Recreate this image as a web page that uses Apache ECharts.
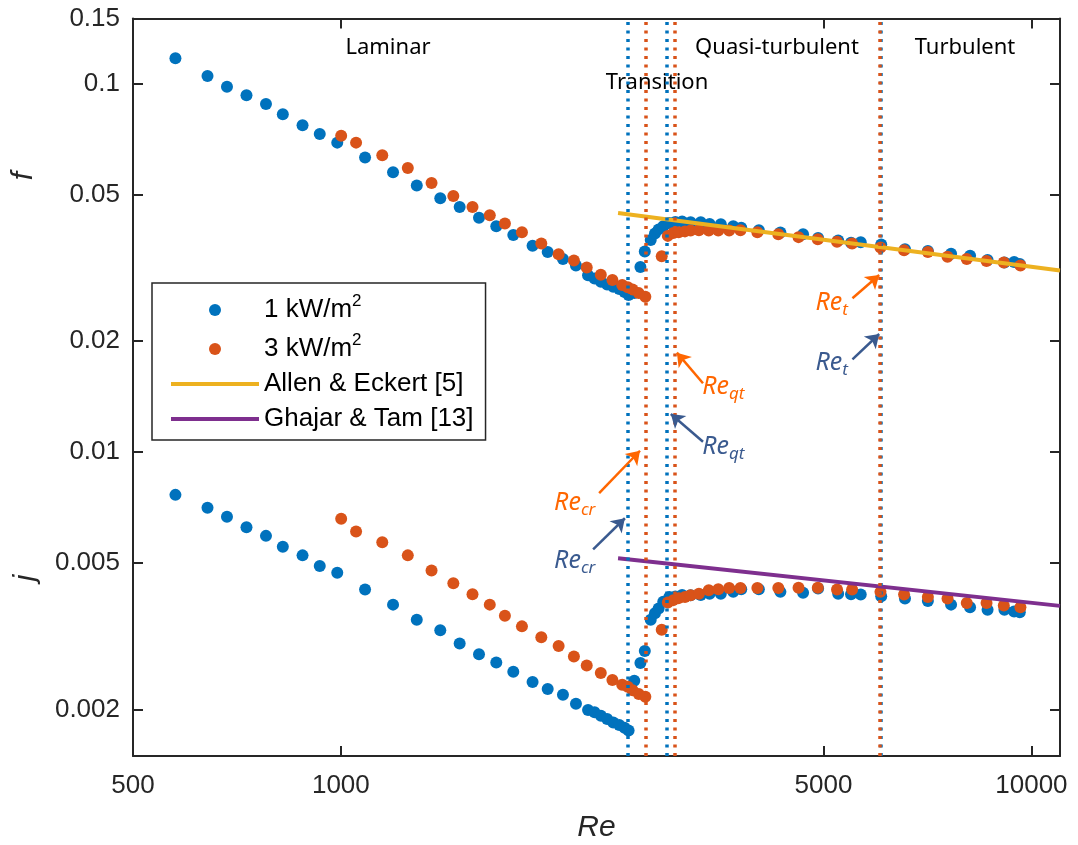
<!DOCTYPE html>
<html>
<head>
<meta charset="utf-8">
<script src="https://cdn.jsdelivr.net/npm/echarts@6/dist/echarts.min.js"></script>
<style>
  html, body { margin: 0; padding: 0; background: #fff; }
  #chart { width: 1078px; height: 845px; }
</style>
</head>
<body>
<div id="chart"></div>
<script>
// 1 kW/m2 (blue): Re with matching f and j
const reBlue = [576, 641, 684, 730, 779, 824, 880, 932, 988, 1084, 1190, 1288, 1393, 1486, 1585, 1679, 1777, 1895, 1993, 2097,
  2190, 2280, 2330, 2380, 2430, 2480, 2530, 2575, 2610,
  2660, 2715, 2755, 2810, 2850, 2885, 2930, 2990,
  3050, 3120, 3210, 3320, 3420, 3550, 3700, 3800, 4030, 4330, 4670, 4910, 5250, 5480, 5660, 6060, 6560, 7080, 7650, 8150, 8640, 9140, 9440, 9620];
const fBlue = [0.1170, 0.1048, 0.0980, 0.0929, 0.0879, 0.0825, 0.0770, 0.0729, 0.0691, 0.0630, 0.0574, 0.0529, 0.0488, 0.0462, 0.0432, 0.0410, 0.0388, 0.0363, 0.0349, 0.0334,
  0.0321, 0.0302, 0.0296, 0.0290, 0.0285, 0.0281, 0.0277, 0.0272, 0.0267,
  0.0270, 0.0318, 0.0350, 0.0376, 0.0392, 0.0402, 0.0410, 0.0418,
  0.0421, 0.0422, 0.0420, 0.0420, 0.0416, 0.0415, 0.0410, 0.0406, 0.0400, 0.0394, 0.0390, 0.0381, 0.0375, 0.0370, 0.0371, 0.0366, 0.0355, 0.0351, 0.0345, 0.0341, 0.0332, 0.0327, 0.0328, 0.0324];
const jBlue = [0.00766, 0.00707, 0.00668, 0.00626, 0.00593, 0.00554, 0.00525, 0.00491, 0.00471, 0.00424, 0.00386, 0.00351, 0.00329, 0.00303, 0.00283, 0.00269, 0.00254, 0.00238, 0.00228, 0.00220,
  0.00208, 0.00200, 0.00197, 0.00193, 0.00189, 0.00185, 0.00182, 0.00179, 0.00176,
  0.00240, 0.00268, 0.00289, 0.00351, 0.00366, 0.00377, 0.00393, 0.00405,
  0.00406, 0.00410, 0.00409, 0.00410, 0.00413, 0.00413, 0.00418, 0.00425, 0.00425, 0.00418, 0.00416, 0.00427, 0.00413, 0.00412, 0.00411, 0.00407, 0.00401, 0.00395, 0.00386, 0.00380, 0.00374, 0.00374, 0.00370, 0.00368];

// 3 kW/m2 (orange)
const reOrange = [1001, 1052, 1148, 1250, 1353, 1455, 1551, 1643, 1728, 1829, 1951, 2067, 2175, 2270, 2379, 2473, 2555, 2603, 2645, 2700, 2760,
  2915, 2975, 3030, 3085, 3150, 3210, 3300, 3410, 3520, 3650, 3790, 4010, 4300, 4600, 4905, 5230, 5500, 6045, 6540, 7080, 7560, 8060, 8610, 9120, 9640];
const fOrange = [0.0721, 0.0691, 0.0639, 0.0590, 0.0537, 0.0495, 0.0462, 0.0439, 0.0417, 0.0395, 0.0368, 0.0344, 0.0331, 0.0317, 0.0303, 0.0293, 0.0284, 0.0280, 0.0276, 0.0270, 0.0264,
  0.0340, 0.0386, 0.0393, 0.0395, 0.0397, 0.0399, 0.0400, 0.0399, 0.0399, 0.0399, 0.0400, 0.0395, 0.0390, 0.0383, 0.0378, 0.0372, 0.0368, 0.0359, 0.0353, 0.0349, 0.0339, 0.0334, 0.0330, 0.0327, 0.0321];
const jOrange = [0.00660, 0.00609, 0.00570, 0.00525, 0.00478, 0.00441, 0.00412, 0.00386, 0.00360, 0.00337, 0.00315, 0.00298, 0.00279, 0.00264, 0.00252, 0.00241, 0.00234, 0.00231, 0.00226, 0.00221, 0.00217,
  0.00330, 0.00391, 0.00397, 0.00402, 0.00405, 0.00409, 0.00413, 0.00422, 0.00425, 0.00428, 0.00428, 0.00428, 0.00428, 0.00429, 0.00429, 0.00424, 0.00424, 0.00418, 0.00411, 0.00405, 0.00401, 0.00390, 0.00390, 0.00384, 0.00380];

// correlations
const allenRe = [2520, 11000];
const allenF = [0.0445, 0.0311];
const ghajarRe = [2520, 11000];
const ghajarJ = [0.00516, 0.00383];

// regime boundaries: Re_cr, Re_qt, Re_t
const boundsBlue = [2604, 2968, 6055];
const boundsOrange = [2762, 3043, 6025];

const xTicks = [500, 1000, 5000, 10000];
const yTicks = [0.002, 0.005, 0.01, 0.02, 0.05, 0.1, 0.15];

// annotations: [subscript, colour key, text pos, arrow tail, arrow head]
const notes = [
  ['cr', 'o', [2181, 0.00728], [2366, 0.00774], [2711, 0.01009]],
  ['cr', 'b', [2181, 0.00507], [2319, 0.00545], [2578, 0.00662]],
  ['qt', 'o', [3579, 0.01502], [3345, 0.01538], [3066, 0.01862]],
  ['qt', 'b', [3579, 0.01033], [3345, 0.01067], [3005, 0.01269]],
  ['t', 'o', [5138, 0.02539], [5506, 0.02615], [6020, 0.03023]],
  ['t', 'b', [5138, 0.01746], [5506, 0.01786], [6020, 0.02092]]
];

const BLUE = '#0072BD', ORANGE = '#D95319', YELLOW = '#EDB120', PURPLE = '#7E2F8E';
const NOTE = { o: '#FF6600', b: '#3A5A8F' };
const AX = '#262626';
const SANS = '"Liberation Sans", Arial, sans-serif';
const CAL = '"Noto Sans", "Open Sans", sans-serif';

const pairs = (xs, ys) => xs.map((x, i) => [x, ys[i]]);
const fmt = v => String(parseFloat(Number(v).toPrecision(4)));

const chart = echarts.init(document.getElementById('chart'));

const axisBase = (isX, main) => ({
  type: 'log',
  logBase: 10,
  min: isX ? 500 : 0.0015,
  max: isX ? 11000 : 0.15,
  axisLine: { show: true, onZero: false, lineStyle: { color: AX, width: 2 } },
  axisTick: { show: true, inside: true, length: 10, customValues: isX ? xTicks : yTicks, lineStyle: { color: AX, width: 2 } },
  minorTick: { show: false },
  splitLine: { show: false },
  axisLabel: main
    ? { show: true, customValues: isX ? xTicks : yTicks, margin: isX ? 17 : 13, fontSize: 26, fontFamily: SANS, color: AX, formatter: fmt }
    : { show: false }
});

const lineLegend = (name, color) => ({ name, itemStyle: { opacity: 0 }, lineStyle: { color, width: 4 } });

const option = {
  backgroundColor: '#fff',
  animation: false,
  grid: { left: 133, right: 18, top: 18.5, bottom: 89, containLabel: false, outerBoundsMode: 'none' },
  xAxis: [
    Object.assign(axisBase(true, true), {
      position: 'bottom',
      name: 'Re', nameLocation: 'middle', nameGap: 57,
      nameTextStyle: { fontStyle: 'italic', fontSize: 30, fontFamily: SANS, color: AX }
    }),
    Object.assign(axisBase(true, false), { position: 'top' })
  ],
  yAxis: [
    Object.assign(axisBase(false, true), { position: 'left' }),
    Object.assign(axisBase(false, false), { position: 'right' })
  ],
  legend: {
    orient: 'vertical',
    left: 152, top: 283,
    padding: [10, 12, 8, 17],
    itemWidth: 88, itemHeight: 12, itemGap: 9,
    borderColor: AX, borderWidth: 1.5, backgroundColor: '#fff',
    selectedMode: false,
    data: ['1 kW/m2', '3 kW/m2', lineLegend('Allen & Eckert [5]', YELLOW), lineLegend('Ghajar & Tam [13]', PURPLE)],
    formatter: name => name.endsWith('m2') ? '{t|' + name.slice(0, -1) + '}{sup|2}' : '{u|' + name + '}',
    textStyle: {
      fontFamily: SANS, fontSize: 26, color: '#000',
      rich: {
        t: { fontFamily: SANS, fontSize: 26, lineHeight: 34, color: '#000' },
        sup: { fontFamily: SANS, fontSize: 17, lineHeight: 17, verticalAlign: 'top', color: '#000' },
        u: { fontFamily: SANS, fontSize: 26, lineHeight: 28, color: '#000' }
      }
    }
  },
  graphic: [
    { type: 'text', x: 24, y: 176, rotation: Math.PI / 2, style: { text: 'f', fontStyle: 'italic', fontSize: 30, fontFamily: SANS, fill: AX, align: 'center', verticalAlign: 'middle' } },
    { type: 'text', x: 26, y: 578, rotation: Math.PI / 2, style: { text: 'j', fontStyle: 'italic', fontSize: 30, fontFamily: SANS, fill: AX, align: 'center', verticalAlign: 'middle' } },
    { type: 'text', x: 388, y: 48, style: { text: 'Laminar', fontSize: 22, fontFamily: CAL, fill: '#000', align: 'center', verticalAlign: 'middle' } },
    { type: 'text', x: 657, y: 83, style: { text: 'Transition', fontSize: 22, fontFamily: CAL, fill: '#000', align: 'center', verticalAlign: 'middle' } },
    { type: 'text', x: 777, y: 48, style: { text: 'Quasi-turbulent', fontSize: 22, fontFamily: CAL, fill: '#000', align: 'center', verticalAlign: 'middle' } },
    { type: 'text', x: 965, y: 48, style: { text: 'Turbulent', fontSize: 22, fontFamily: CAL, fill: '#000', align: 'center', verticalAlign: 'middle' } }
  ],
  series: [
    {
      name: 'bounds-blue', type: 'line', data: [], z: 1, silent: true,
      markLine: {
        silent: true, symbol: ['none', 'none'], animation: false,
        label: { show: false },
        lineStyle: { color: BLUE, width: 3.5, type: [3, 5.5], cap: 'butt' },
        data: boundsBlue.map(v => ({ xAxis: v }))
      }
    },
    {
      name: 'bounds-orange', type: 'line', data: [], z: 1, silent: true,
      markLine: {
        silent: true, symbol: ['none', 'none'], animation: false,
        label: { show: false },
        lineStyle: { color: ORANGE, width: 3.5, type: [3, 5.5], cap: 'butt' },
        data: boundsOrange.map(v => ({ xAxis: v }))
      }
    },
    {
      name: '1 kW/m2', type: 'scatter', z: 2,
      symbol: 'circle', symbolSize: 12,
      itemStyle: { color: BLUE, opacity: 1 },
      data: pairs(reBlue, fBlue).concat(pairs(reBlue, jBlue))
    },
    {
      name: '3 kW/m2', type: 'scatter', z: 2,
      symbol: 'circle', symbolSize: 12,
      itemStyle: { color: ORANGE, opacity: 1 },
      data: pairs(reOrange, fOrange).concat(pairs(reOrange, jOrange))
    },
    {
      name: 'Allen & Eckert [5]', type: 'line', z: 3, symbol: 'none',
      lineStyle: { color: YELLOW, width: 4 }, itemStyle: { color: YELLOW },
      data: pairs(allenRe, allenF)
    },
    {
      name: 'Ghajar & Tam [13]', type: 'line', z: 3, symbol: 'none',
      lineStyle: { color: PURPLE, width: 4 }, itemStyle: { color: PURPLE },
      data: pairs(ghajarRe, ghajarJ)
    },
    {
      name: 'notes', type: 'line', data: [], z: 5, silent: true,
      markLine: {
        silent: true, animation: false,
        symbol: ['none', 'arrow'], symbolSize: 13,
        label: { show: false },
        data: notes.map(n => [
          { coord: n[3], lineStyle: { color: NOTE[n[1]], width: 2.5, type: 'solid' }, itemStyle: { color: NOTE[n[1]] } },
          { coord: n[4] }
        ])
      },
      markPoint: {
        silent: true, animation: false,
        symbol: 'circle', symbolSize: 1,
        itemStyle: { color: 'rgba(0,0,0,0)' },
        label: {
          show: true, position: 'inside',
          rich: {
            ro: { color: NOTE.o, fontStyle: 'italic', fontFamily: CAL, fontSize: 25, lineHeight: 32 },
            so: { color: NOTE.o, fontStyle: 'italic', fontFamily: CAL, fontSize: 17, lineHeight: 17, padding: [13, 0, 0, 0], verticalAlign: 'bottom' },
            rb: { color: NOTE.b, fontStyle: 'italic', fontFamily: CAL, fontSize: 25, lineHeight: 32 },
            sb: { color: NOTE.b, fontStyle: 'italic', fontFamily: CAL, fontSize: 17, lineHeight: 17, padding: [13, 0, 0, 0], verticalAlign: 'bottom' }
          }
        },
        data: notes.map(n => ({
          coord: n[2],
          label: { formatter: '{r' + n[1] + '|Re}{s' + n[1] + '|' + n[0] + '}' }
        }))
      }
    }
  ]
};

chart.setOption(option);
window.addEventListener('resize', () => chart.resize());
</script>
</body>
</html>
